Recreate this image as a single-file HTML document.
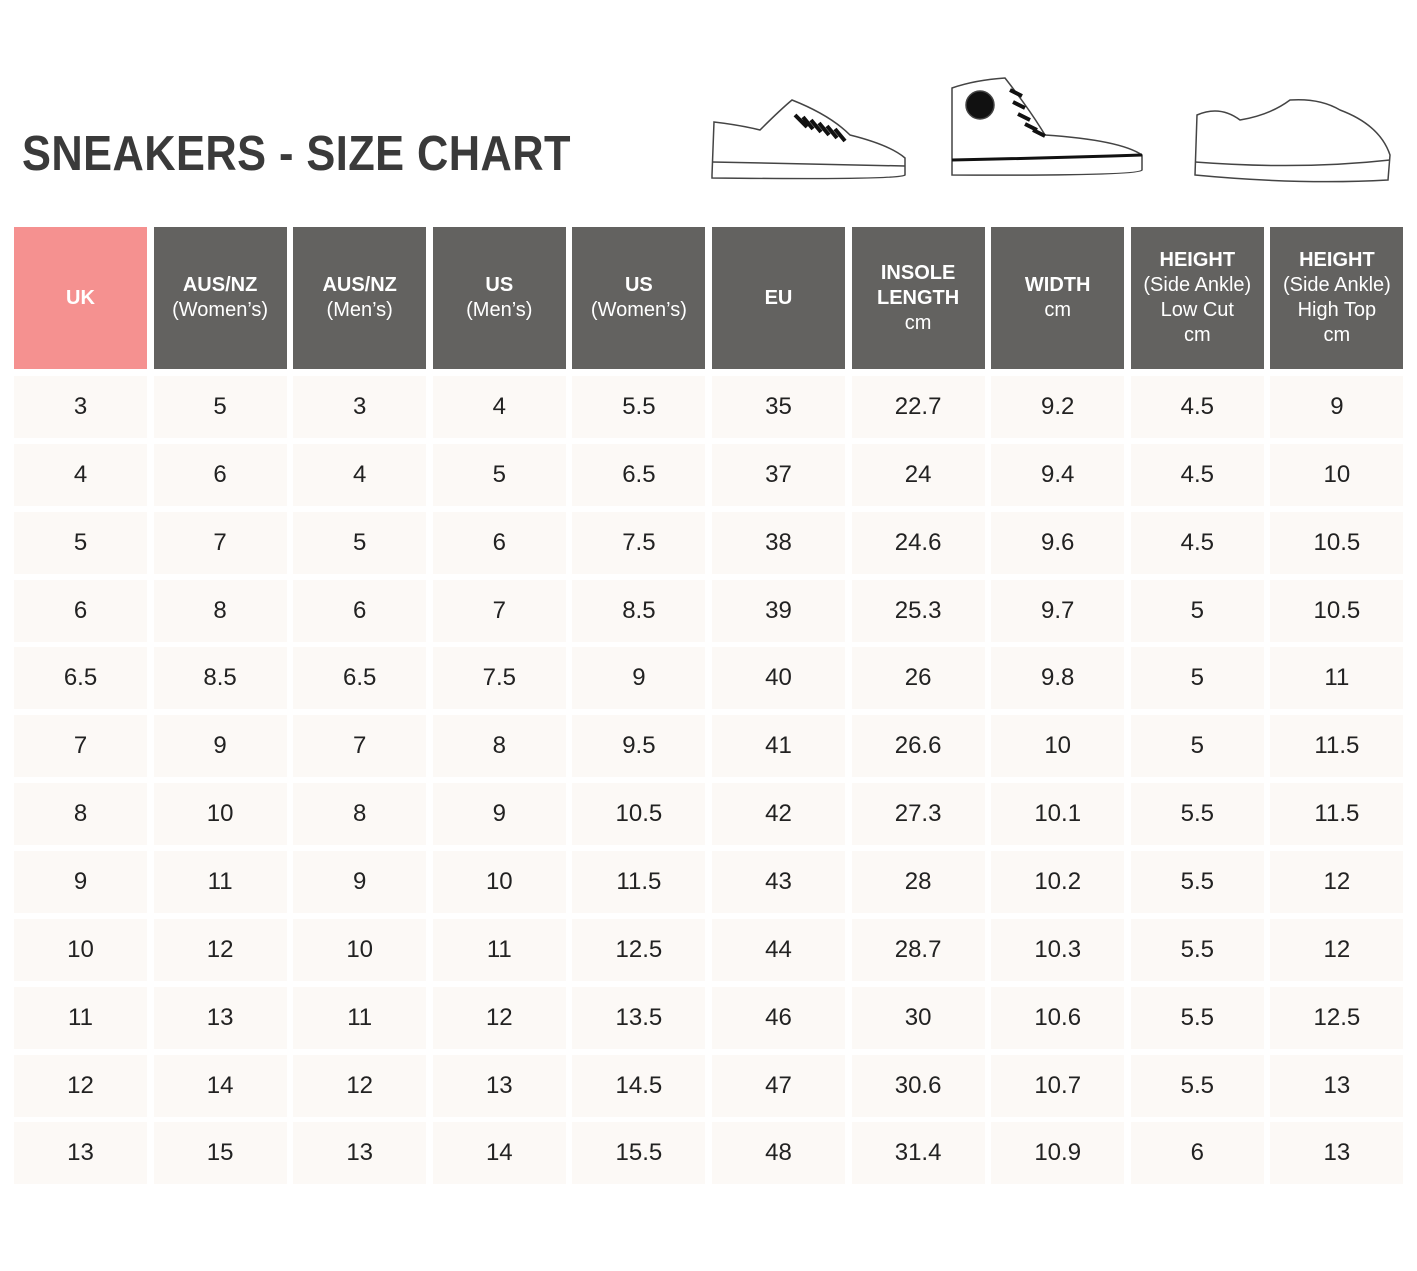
<!DOCTYPE html>
<html><head><meta charset="utf-8"><style>
body{margin:0;background:#fff;width:1417px;height:1271px;position:relative;font-family:"Liberation Sans",sans-serif;overflow:hidden}
#title{position:absolute;left:22px;top:126px;font-size:49px;font-weight:bold;color:#3a3a3a;letter-spacing:0.5px;white-space:nowrap;transform:scaleX(0.885);transform-origin:0 0}
.c{position:absolute;display:flex;align-items:center;justify-content:center;text-align:center}
.h{background:#636260;color:#fff;font-size:20px;line-height:25px;flex-direction:column}
.h b{font-weight:bold}
.d{background:#fcf9f6;color:#222;font-size:24px}
</style></head><body>
<div id="title">SNEAKERS - SIZE CHART</div>
<svg style="position:absolute;left:700px;top:70px" width="710" height="130" fill="none" stroke="#444" stroke-width="1.5">
<g><path d="M12 105 L14 52 Q40 55 60 60 Q80 40 92 30 Q130 45 150 65 Q190 75 205 88 L205 105 Q200 110 12 108 Z"/><path d="M12 92 L205 96"/><path d="M95 45 l12 12 M103 47 l10 12 M111 50 l10 12 M119 53 l10 12 M127 56 l10 12 M135 59 l10 12" stroke="#111" stroke-width="4"/></g>
<g><path d="M252 97 L252 18 Q275 10 305 8 Q330 40 345 65 Q420 70 442 85 L442 100 Q440 106 252 105 Z" /><path d="M252 90 Q350 88 442 85" stroke="#111" stroke-width="3"/><circle cx="280" cy="35" r="14" fill="#111"/><path d="M310 20 l12 6 M313 32 l12 6 M318 44 l12 6 M325 54 l12 6 M333 60 l12 6" stroke="#111" stroke-width="4"/></g>
<g><path d="M495 105 L497 45 Q520 35 540 50 Q570 45 590 30 Q620 28 640 40 Q680 55 690 85 L688 110 Q600 115 495 105 Z"/><path d="M495 92 Q600 100 690 90"/></g>
</svg>
<div id="tbl"></div>
<script>
const headers=[["UK"],["AUS/NZ","(Women’s)"],["AUS/NZ","(Men’s)"],["US","(Men’s)"],["US","(Women’s)"],["EU"],["INSOLE","LENGTH","cm"],["WIDTH","cm"],["HEIGHT","(Side Ankle)","Low Cut","cm"],["HEIGHT","(Side Ankle)","High Top","cm"]];
const uk=["3","4","5","6","6.5","7","8","9","10","11","12","13"];
const ausW=["5","6","7","8","8.5","9","10","11","12","13","14","15"];
const ausM=["3","4","5","6","6.5","7","8","9","10","11","12","13"];
const usM=["4","5","6","7","7.5","8","9","10","11","12","13","14"];
const usW=["5.5","6.5","7.5","8.5","9","9.5","10.5","11.5","12.5","13.5","14.5","15.5"];
const eu=["35","37","38","39","40","41","42","43","44","46","47","48"];
const insole=["22.7","24","24.6","25.3","26","26.6","27.3","28","28.7","30","30.6","31.4"];
const width=["9.2","9.4","9.6","9.7","9.8","10","10.1","10.2","10.3","10.6","10.7","10.9"];
const lowCut=["4.5","4.5","4.5","5","5","5","5.5","5.5","5.5","5.5","5.5","6"];
const highTop=["9","10","10.5","10.5","11","11.5","11.5","12","12","12.5","13","13"];
const cols=[uk,ausW,ausM,usM,usW,eu,insole,width,lowCut,highTop];
const colNames=["uk","aus-nz-womens","aus-nz-mens","us-mens","us-womens","eu","insole-length","width","height-low-cut","height-high-top"];
const t=document.getElementById('tbl');


for(let c=0;c<cols.length;c++){
  const x=14+c*139.6;
  const h=document.createElement('div');
  h.className='c h';
  h.style.cssText=`left:${x}px;top:227px;width:133px;height:142px;`+(c===0?'background:#f59190;':'');
  
  
  h.innerHTML=headers[c].map((s,i)=>i===0||(c===6&&i===1)?`<b>${s}</b>`:`<span>${s}</span>`).join('');
  t.appendChild(h);
  cols[c].forEach((v,r)=>{
    const d=document.createElement('div');
    d.className='c d';
    d.style.cssText=`left:${x}px;top:${376+r*67.85}px;width:133px;height:62px;`;
    
    
    d.textContent=v;
    t.appendChild(d);
  });
}
</script>
</body></html>
